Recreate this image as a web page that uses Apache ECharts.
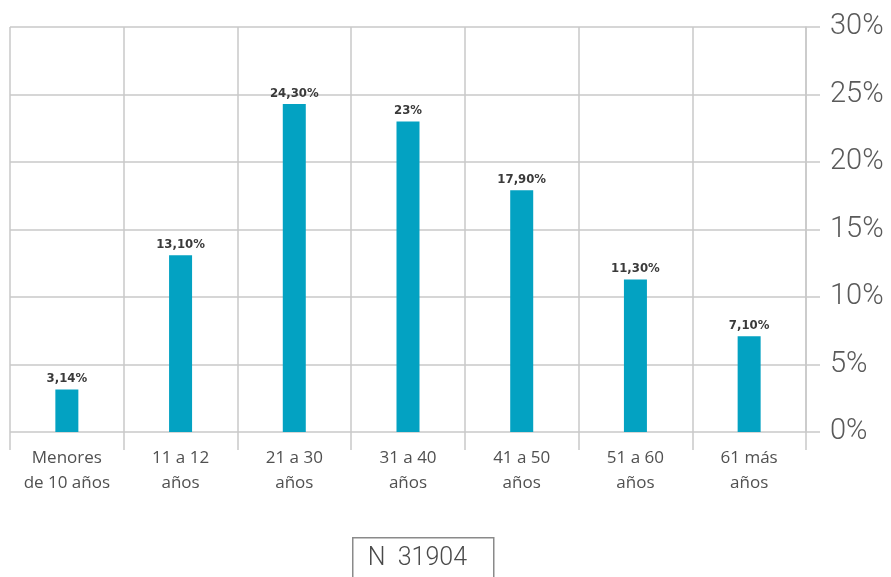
<!DOCTYPE html>
<html>
<head>
<meta charset="utf-8">
<script src="https://cdn.jsdelivr.net/npm/echarts@6/dist/echarts.min.js"></script>
<style>
  html, body { margin: 0; padding: 0; background: #ffffff; }
  #chart { width: 891px; height: 577px; }
</style>
</head>
<body>
<div id="chart"></div>
<script>
// Age groups (x axis)
const categories = [
  'Menores\nde 10 años',
  '11 a 12\naños',
  '21 a 30\naños',
  '31 a 40\naños',
  '41 a 50\naños',
  '51 a 60\naños',
  '61 más\naños'
];
// Share of cases per group (%)
const values = [3.14, 13.1, 24.3, 23, 17.9, 11.3, 7.1];
// Label shown above each bar
const valueLabels = ['3,14%', '13,10%', '24,30%', '23%', '17,90%', '11,30%', '7,10%'];
// Sample size note
const sampleNote = 'N  31904';

const gridColor = '#c9c9c9';

const chart = echarts.init(document.getElementById('chart'), null, { renderer: 'canvas' });

chart.setOption({
  backgroundColor: '#ffffff',
  animation: false,
  grid: { left: 10, right: 85, top: 27, bottom: 145, containLabel: false },
  xAxis: {
    type: 'category',
    data: categories,
    boundaryGap: true,
    axisLine: { show: false },
    axisTick: { show: true, length: 18, lineStyle: { color: gridColor, width: 1.5 } },
    splitLine: { show: true, lineStyle: { color: gridColor, width: 1.5 } },
    axisLabel: {
      margin: 14,
      color: '#505050',
      fontFamily: 'Open Sans',
      fontSize: 17,
      lineHeight: 25,
      interval: 0
    }
  },
  yAxis: {
    type: 'value',
    position: 'right',
    min: 0,
    max: 30,
    interval: 5,
    axisLine: { show: true, lineStyle: { color: gridColor, width: 1.5 } },
    axisTick: { show: true, inside: false, length: 14, lineStyle: { color: gridColor, width: 1.5 } },
    splitLine: { show: true, lineStyle: { color: gridColor, width: 1.5 } },
    axisLabel: {
      margin: 24,
      color: '#5a5a5a',
      fontFamily: 'Roboto',
      fontWeight: 300,
      fontSize: 29,
      formatter: v => v + '%'
    }
  },
  series: [{
    type: 'bar',
    data: values,
    barWidth: 23,
    itemStyle: { color: '#03a2c2' },
    label: {
      show: true,
      position: 'top',
      distance: 4,
      color: '#3a3a3a',
      fontFamily: '"DejaVu Sans Condensed", Roboto',
      fontWeight: 'bold',
      fontSize: 13,
      formatter: p => valueLabels[p.dataIndex]
    }
  }],
  graphic: [{
    type: 'group',
    left: 352,
    top: 537,
    children: [{
      type: 'rect',
      shape: { x: 0, y: 0, width: 141, height: 48 },
      style: { fill: '#ffffff', stroke: '#8a8a8a', lineWidth: 1.5 }
    }, {
      type: 'text',
      x: 15,
      y: 21,
      style: {
        text: sampleNote,
        fill: '#4a4a4a',
        font: '300 25px Roboto',
        verticalAlign: 'middle'
      }
    }]
  }]
});
</script>
</body>
</html>
